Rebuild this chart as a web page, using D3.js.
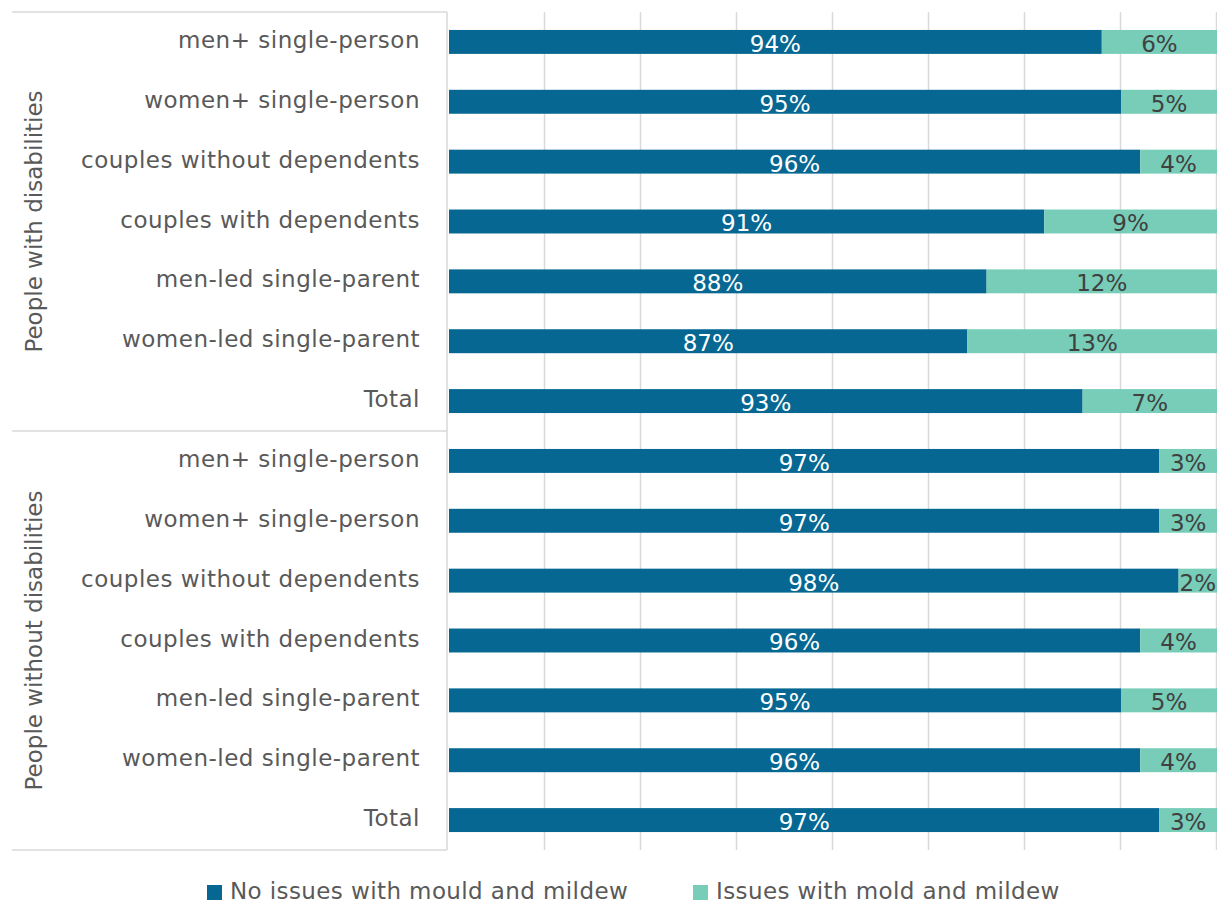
<!DOCTYPE html>
<html>
<head>
<meta charset="utf-8">
<script src="https://cdn.jsdelivr.net/npm/d3@7"></script>
<style>
  body { margin: 0; background: #fff; }
  text { font-family: "DejaVu Sans", "Noto Sans", sans-serif; }
</style>
</head>
<body>
<svg id="chart" width="1217" height="903"></svg>
<script>
// groups and categories, top to bottom
var groups = ["People with disabilities", "People without disabilities"];
var categories = [
   ["men+ single-person", "women+ single-person", "couples without dependents", "couples with dependents",
    "men-led single-parent", "women-led single-parent", "Total"],
   ["men+ single-person", "women+ single-person", "couples without dependents", "couples with  dependents",
    "men-led single-parent", "women-led single-parent", "Total"]
];
var noIssues = [[94, 95, 96, 91, 88, 87, 93], [97, 97, 98, 96, 95, 96, 97]];
var issues = [[6, 5, 4, 9, 12, 13, 7], [3, 3, 2, 4, 5, 4, 3]];
var seriesNames = ["No issues with mould and mildew", "Issues with mold and mildew"];
var colors = ["#066892", "#77cdb8"];

var svg = d3.select("#chart"),
   plotLeft = 449, plotRight = 1217, plotTop = 12, plotBottom = 850;

var rows = [];
groups.forEach(function (g, gi) {
   categories[gi].forEach(function (c, ci) {
      rows.push({id: gi + "-" + ci, group: gi, cat: c, a: noIssues[gi][ci], b: issues[gi][ci]});
   });
});

// axis starts at 60%, bars below are clipped
var x = d3.scaleLinear().domain([60, 100]).range([plotLeft, plotRight]);
var y = d3.scaleBand().domain(rows.map(function (d) { return d.id; }))
   .range([plotTop, plotBottom]).paddingInner(0.6).paddingOuter(0.3);

var gridColor = "#d9d9d9";

svg.append("g").selectAll("line")
   .data(d3.range(65, 101, 5))
   .enter().append("line")
   .attr("x1", function (d) { return x(d) - 0.5; })
   .attr("x2", function (d) { return x(d) - 0.5; })
   .attr("y1", plotTop).attr("y2", plotBottom)
   .attr("stroke", gridColor).attr("stroke-width", 1.5);

// left frame
var frame = svg.append("g").attr("stroke", gridColor).attr("stroke-width", 1.5);
frame.append("line").attr("x1", 447).attr("x2", 447).attr("y1", plotTop).attr("y2", plotBottom);
[plotTop, (y(rows[6].id) + y.bandwidth() + y(rows[7].id)) / 2, plotBottom].forEach(function (yy) {
   frame.append("line").attr("x1", 12).attr("x2", 447).attr("y1", yy).attr("y2", yy);
});

var bars = svg.append("g").selectAll("g").data(rows).enter().append("g")
   .attr("transform", function (d) { return "translate(0," + y(d.id) + ")"; });

bars.append("rect")
   .attr("x", plotLeft)
   .attr("width", function (d) { return x(d.a) - plotLeft; })
   .attr("height", y.bandwidth())
   .attr("fill", colors[0]);

bars.append("rect")
   .attr("x", function (d) { return x(d.a); })
   .attr("width", function (d) { return x(d.a + d.b) - x(d.a); })
   .attr("height", y.bandwidth())
   .attr("fill", colors[1]);

bars.append("text")
   .attr("x", function (d) { return (plotLeft + x(d.a)) / 2; })
   .attr("y", y.bandwidth() / 2 + 10)
   .attr("text-anchor", "middle")
   .attr("font-size", 23)
   .attr("fill", "#fff")
   .text(function (d) { return d.a + "%"; });

bars.append("text")
   .attr("x", function (d) { return (x(d.a) + x(d.a + d.b)) / 2; })
   .attr("y", y.bandwidth() / 2 + 10)
   .attr("text-anchor", "middle")
   .attr("font-size", 23)
   .attr("fill", "#404040")
   .text(function (d) { return d.b + "%"; });

bars.append("text")
   .attr("x", 420)
   .attr("y", y.bandwidth() / 2 + 6)
   .attr("text-anchor", "end")
   .attr("font-size", 23)
   .attr("letter-spacing", 0.5)
   .attr("fill", "#595959")
   .text(function (d) { return d.cat; });

// group labels
groups.forEach(function (g, gi) {
   var r = rows.filter(function (d) { return d.group === gi; });
   var cy = (y(r[0].id) + y(r[r.length - 1].id) + y.bandwidth()) / 2;
   svg.append("text")
      .attr("transform", "translate(42," + cy + ") rotate(-90)")
      .attr("text-anchor", "middle")
      .attr("font-size", 23)
      .attr("fill", "#595959")
      .text(g);
});

// legend
var legendX = [207, 693];
var legend = svg.append("g").selectAll("g").data(seriesNames).enter().append("g")
   .attr("transform", function (d, i) { return "translate(" + legendX[i] + ",885)"; });
legend.append("rect").attr("width", 15).attr("height", 15)
   .attr("fill", function (d, i) { return colors[i]; });
legend.append("text").attr("x", 23).attr("y", 14)
   .attr("font-size", 23).attr("letter-spacing", 0.4).attr("fill", "#595959")
   .text(function (d) { return d; });
</script>
</body>
</html>
